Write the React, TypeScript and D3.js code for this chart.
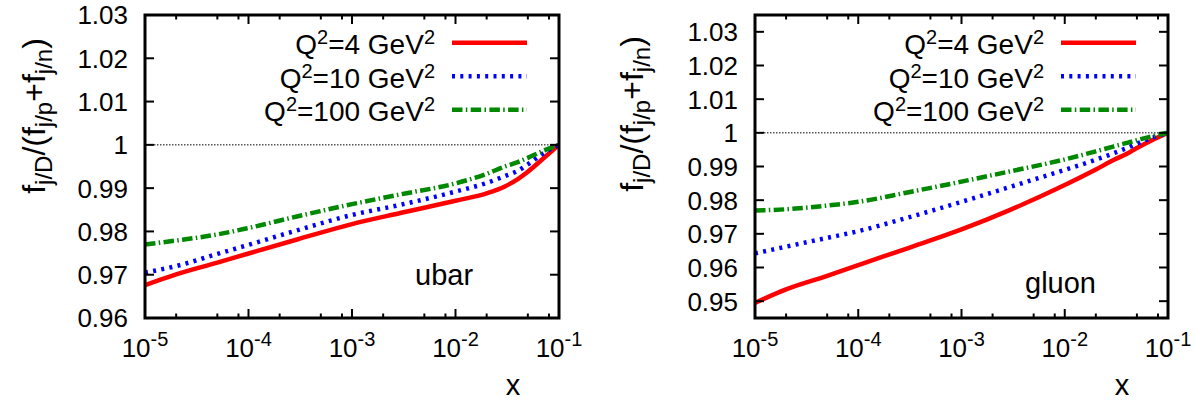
import React from "react";
import * as d3 from "d3";

// ---- data ----
const xGrid = [1e-5, 2e-5, 5e-5, 1e-4, 3e-4, 1e-3, 3e-3, 1e-2, 2e-2, 3e-2, 4e-2, 5e-2, 7e-2, 1e-1];

const ubarQ4 = [0.9676, 0.9701, 0.9728, 0.9749, 0.9782, 0.9817, 0.9843, 0.9871, 0.9888, 0.9904, 0.9921, 0.9938, 0.9968, 1.0];
const ubarQ10 = [0.9705, 0.972, 0.9748, 0.9769, 0.9803, 0.9838, 0.9862, 0.9892, 0.9912, 0.9928, 0.994, 0.9955, 0.998, 1.0];
const ubarQ100 = [0.977, 0.9779, 0.9793, 0.9808, 0.9835, 0.9863, 0.9886, 0.9911, 0.9933, 0.995, 0.996, 0.997, 0.9986, 1.0];

const gluonQ4 = [0.9495, 0.9535, 0.9575, 0.9607, 0.9657, 0.9713, 0.9772, 0.9845, 0.9891, 0.992, 0.9938, 0.9955, 0.9978, 1.0];
const gluonQ10 = [0.9642, 0.9662, 0.9688, 0.9708, 0.9748, 0.9795, 0.984, 0.989, 0.992, 0.994, 0.9955, 0.9968, 0.9985, 1.0];
const gluonQ100 = [0.9769, 0.9773, 0.9784, 0.9795, 0.9823, 0.9855, 0.9886, 0.9921, 0.9945, 0.996, 0.997, 0.9978, 0.999, 1.0];

const seriesLabels = ["4", "10", "100"];
const xMajorTicks = [1e-5, 1e-4, 1e-3, 1e-2, 1e-1];
const xTickExponents = ["-5", "-4", "-3", "-2", "-1"];
const minorMultipliers = [2, 5, 8];
const ubarYTicks = [0.96, 0.97, 0.98, 0.99, 1, 1.01, 1.02, 1.03];
const gluonYTicks = [0.95, 0.96, 0.97, 0.98, 0.99, 1, 1.01, 1.02, 1.03];

const styles = [
  { color: "#ff0000", width: 4.5, dash: "none" },
  { color: "#0000ff", width: 4.5, dash: "3,5.3" },
  { color: "#008800", width: 4.5, dash: "10.5,3.3,1.5,3.4" },
];

const FONT = "'Liberation Sans', Arial, Helvetica, sans-serif";

type PanelProps = {
  left: number;
  right: number;
  top: number;
  bottom: number;
  yDomain: [number, number];
  yTicks: number[];
  series: number[][];
  name: string;
  nameX: number;
  nameY: number;
  ylabelX: number;
  ylabelY: number;
  xlabelX: number;
};

function Panel(p: PanelProps) {
  const x = d3.scaleLog().domain([1e-5, 1e-1]).range([p.left, p.right]);
  const y = d3.scaleLinear().domain(p.yDomain).range([p.bottom, p.top]);
  const line = d3
    .line<[number, number]>()
    .x((d) => x(d[0]))
    .y((d) => y(d[1]))
    .curve(d3.curveMonotoneX);
  const clipId = "clip-" + p.name;
  const minor: number[] = [];
  for (let i = 0; i < xMajorTicks.length - 1; i++) {
    for (const m of minorMultipliers) minor.push(xMajorTicks[i] * m);
  }
  const majLen = 9;
  const minLen = 4.5;
  const legendTextX = p.right - 124;
  const legendLineX0 = p.right - 107;
  const legendLineX1 = p.right - 32;
  const legendRows = [42.7, 76.3, 109.7];
  return (
    <g>
      <defs>
        <clipPath id={clipId}>
          <rect x={p.left} y={p.top} width={p.right - p.left} height={p.bottom - p.top} />
        </clipPath>
      </defs>
      <line
        x1={p.left}
        x2={p.right}
        y1={y(1)}
        y2={y(1)}
        stroke="#000"
        strokeWidth={1}
        strokeDasharray="1.5,1.5"
      />
      <g clipPath={`url(#${clipId})`}>
        {p.series.map((vals, i) => (
          <path
            key={i}
            d={line(xGrid.map((xv, j) => [xv, vals[j]] as [number, number])) || ""}
            fill="none"
            stroke={styles[i].color}
            strokeWidth={styles[i].width}
            strokeDasharray={styles[i].dash}
          />
        ))}
      </g>
      {p.yTicks.map((t) => (
        <g key={"y" + t}>
          <line x1={p.left} x2={p.left + majLen} y1={y(t)} y2={y(t)} stroke="#000" strokeWidth={2} />
          <line x1={p.right} x2={p.right - majLen} y1={y(t)} y2={y(t)} stroke="#000" strokeWidth={2} />
          <text x={p.left - 17} y={y(t)} dy="0.36em" textAnchor="end" fontSize={26} fontFamily={FONT}>
            {String(t)}
          </text>
        </g>
      ))}
      {xMajorTicks.map((t, i) => (
        <g key={"x" + t}>
          <line x1={x(t)} x2={x(t)} y1={p.bottom} y2={p.bottom - majLen} stroke="#000" strokeWidth={2} />
          <line x1={x(t)} x2={x(t)} y1={p.top} y2={p.top + majLen} stroke="#000" strokeWidth={2} />
          <text x={x(t)} y={357} textAnchor="middle" fontSize={26} fontFamily={FONT}>
            10
            <tspan dy={-11} fontSize={20}>
              {xTickExponents[i]}
            </tspan>
          </text>
        </g>
      ))}
      {minor.map((t) => (
        <g key={"m" + t}>
          <line x1={x(t)} x2={x(t)} y1={p.bottom} y2={p.bottom - minLen} stroke="#000" strokeWidth={2} />
          <line x1={x(t)} x2={x(t)} y1={p.top} y2={p.top + minLen} stroke="#000" strokeWidth={2} />
        </g>
      ))}
      <rect
        x={p.left}
        y={p.top}
        width={p.right - p.left}
        height={p.bottom - p.top}
        fill="none"
        stroke="#000"
        strokeWidth={3}
      />
      {seriesLabels.map((lab, i) => (
        <g key={"l" + i}>
          <text x={legendTextX} y={legendRows[i] + 11.5} textAnchor="end" fontSize={28} fontFamily={FONT}>
            Q
            <tspan dy={-10} fontSize={20}>2</tspan>
            <tspan dy={10}>{"=" + lab + " GeV"}</tspan>
            <tspan dy={-10} fontSize={20}>2</tspan>
          </text>
          <line
            x1={legendLineX0}
            x2={legendLineX1}
            y1={legendRows[i]}
            y2={legendRows[i]}
            stroke={styles[i].color}
            strokeWidth={styles[i].width}
            strokeDasharray={styles[i].dash}
          />
        </g>
      ))}
      <text x={p.nameX} y={p.nameY} fontSize={29} fontFamily={FONT}>
        {p.name}
      </text>
      <text x={p.xlabelX} y={395} textAnchor="middle" fontSize={29} fontFamily={FONT}>
        x
      </text>
      <text
        transform={`translate(${p.ylabelX},${p.ylabelY}) rotate(-90)`}
        textAnchor="middle"
        fontSize={32}
        fontFamily={FONT}
      >
        f<tspan dy={7} fontSize={24}>j/D</tspan>
        <tspan dy={-7}>/(f</tspan>
        <tspan dy={7} fontSize={24}>j/p</tspan>
        <tspan dy={-7}>+f</tspan>
        <tspan dy={7} fontSize={24}>j/n</tspan>
        <tspan dy={-7}>)</tspan>
      </text>
    </g>
  );
}

export default function App() {
  return (
    <svg width={1195} height={400} style={{ display: "block", position: "absolute", left: 0, top: 0 }}>
      <rect width={1195} height={400} fill="#fff" />
      <Panel
        left={145}
        right={559}
        top={15}
        bottom={318}
        yDomain={[0.96, 1.03]}
        yTicks={ubarYTicks}
        series={[ubarQ4, ubarQ10, ubarQ100]}
        name="ubar"
        nameX={415}
        nameY={285}
        ylabelX={45}
        ylabelY={116}
        xlabelX={513}
      />
      <Panel
        left={755}
        right={1168}
        top={15}
        bottom={318}
        yDomain={[0.945, 1.035]}
        yTicks={gluonYTicks}
        series={[gluonQ4, gluonQ10, gluonQ100]}
        name="gluon"
        nameX={1025}
        nameY={293}
        ylabelX={643}
        ylabelY={114}
        xlabelX={1122}
      />
    </svg>
  );
}
